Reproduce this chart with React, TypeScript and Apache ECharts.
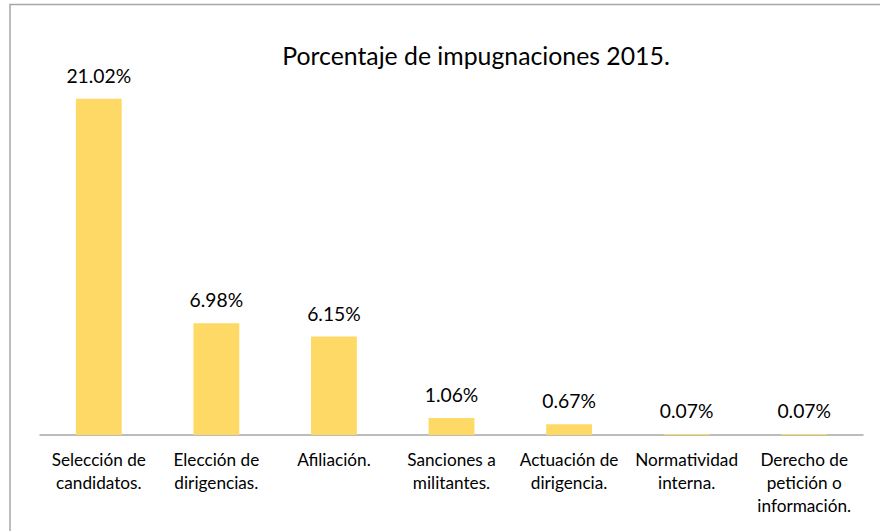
import React, { useEffect, useRef } from "react";
import * as echarts from "echarts";

const categories = [
  "Selección de\ncandidatos.",
  "Elección de\ndirigencias.",
  "Afiliación.",
  "Sanciones a\nmilitantes.",
  "Actuación de\ndirigencia.",
  "Normatividad\ninterna.",
  "Derecho de\npetición o\ninformación.",
];
const values = [21.02, 6.98, 6.15, 1.06, 0.67, 0.07, 0.07];
const titleText = "Porcentaje de impugnaciones 2015.";

const FONT = "Lato";

export default function App() {
  const ref = useRef<HTMLDivElement>(null);
  useEffect(() => {
    if (!ref.current) return;
    const chart = echarts.init(ref.current, undefined, { renderer: "svg" });
    chart.setOption({
      animation: false,
      backgroundColor: "#ffffff",
      title: {
        text: titleText,
        left: 471,
        top: 38,
        textAlign: "center",
        textStyle: { fontFamily: FONT, fontSize: 24.8, fontWeight: "normal", color: "#000000" },
      },
      graphic: [
        {
          type: "rect",
          shape: { x: 10, y: 4.5, width: 900, height: 600 },
          style: { fill: "none", stroke: "#a6a6a6", lineWidth: 1.5 },
          silent: true,
        },
      ],
      grid: { left: 40, right: 17, top: 35, bottom: 96, containLabel: false },
      xAxis: {
        type: "category",
        data: categories,
        axisLine: { lineStyle: { color: "#a6a6a6", width: 1.5 } },
        axisTick: { show: false },
        axisLabel: {
          interval: 0,
          margin: 13,
          fontFamily: FONT,
          fontSize: 17.2,
          lineHeight: 23,
          color: "#000000",
        },
      },
      yAxis: {
        type: "value",
        min: 0,
        max: 25,
        show: false,
        splitLine: { show: false },
      },
      series: [
        {
          type: "bar",
          data: values,
          barWidth: "39%",
          itemStyle: { color: "#FFD966" },
          label: {
            show: true,
            position: "top",
            distance: 14,
            formatter: (p: any) => p.value.toFixed(2) + "%",
            fontFamily: FONT,
            fontSize: 19.3,
            color: "#000000",
          },
        },
      ],
    });
    return () => chart.dispose();
  }, []);
  return <div ref={ref} style={{ width: 880, height: 531, position: "absolute", left: 0, top: 0 }} />;
}
